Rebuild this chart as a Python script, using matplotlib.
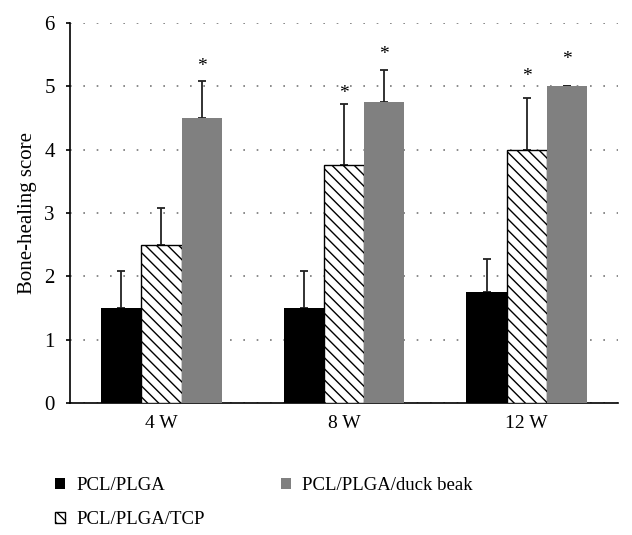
import numpy as np
import matplotlib
matplotlib.use('Agg')
import matplotlib.pyplot as plt

plt.rcParams['font.family'] = ['Liberation Serif', 'DejaVu Serif']
plt.rcParams['hatch.linewidth'] = 1.0

weeks = ['4 W', '8 W', '12 W']
series = ['PCL/PLGA', 'PCL/PLGA/TCP', 'PCL/PLGA/duck beak']
pcl_plga = [1.5, 1.5, 1.75]
pcl_plga_tcp = [2.5, 3.75, 4.0]
duck_beak = [4.5, 4.75, 5.0]
err_pcl_plga = [0.58, 0.58, 0.52]
err_tcp = [0.58, 0.97, 0.82]
err_duck = [0.58, 0.5, 0.0]
# asterisk heights (significance marks)
star_tcp = [None, 4.88, 5.16]
star_duck = [5.32, 5.5, 5.43]

fig = plt.figure(figsize=(6.32, 5.35), dpi=100)
ax = fig.add_axes([0.111, 0.247, 0.867, 0.71])

x = np.arange(len(weeks)) + 0.5
w = 0.22
ekw = dict(elinewidth=1.3, capsize=3, capthick=1.3, ecolor='#222222', zorder=2)

ax.bar(x - w, pcl_plga, w, color='black', label=series[0],
       yerr=[np.zeros(3), err_pcl_plga], error_kw=ekw, zorder=3)
ax.bar(x, pcl_plga_tcp, w, color='white', edgecolor='black', hatch='\\\\\\',
       linewidth=1.0, label=series[1],
       yerr=[np.zeros(3), err_tcp], error_kw=ekw, zorder=3)
ax.bar(x + w, duck_beak, w, color='#808080', label=series[2],
       yerr=[np.zeros(3), err_duck], error_kw=ekw, zorder=3)

for i in range(3):
    if star_tcp[i] is not None:
        ax.text(x[i], star_tcp[i], '*', ha='center', va='center', fontsize=14)
    ax.text(x[i] + w, star_duck[i], '*', ha='center', va='center', fontsize=14)

ax.set_xlim(0, 3)
ax.set_ylim(0, 6)
ax.set_xticks(x)
ax.set_xticklabels(weeks, fontsize=14)
ax.set_yticks(range(7))
ax.tick_params(axis='y', labelsize=15, direction='out', length=3, width=1.2, pad=8)
ax.tick_params(axis='x', length=0, pad=9)
ax.yaxis.grid(True, linestyle=(0, (1, 7)), color='#777777', linewidth=1.2, zorder=0)
ax.set_axisbelow(True)
ax.spines['top'].set_visible(False)
ax.spines['right'].set_visible(False)
ax.spines['left'].set_linewidth(1.2)
ax.spines['bottom'].set_linewidth(1.2)
ax.set_ylabel('Bone-healing score', fontsize=15, labelpad=5)

fig.legend(loc='upper left', bbox_to_anchor=(0.061, 0.14), ncol=2, frameon=False,
           fontsize=13.5, handlelength=0.5, handleheight=0.5, handletextpad=0.6,
           columnspacing=4.1, labelspacing=0.92)

fig.savefig('out.png', dpi=100)
